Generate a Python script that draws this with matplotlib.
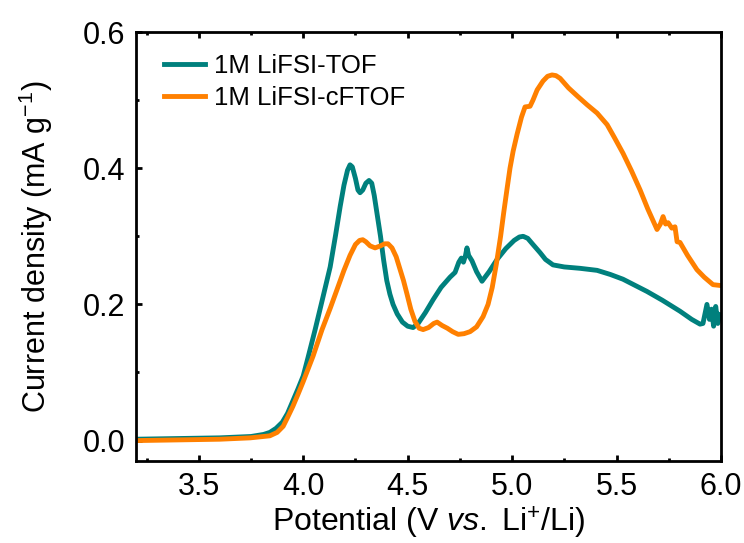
import numpy as np
import matplotlib
matplotlib.use('Agg')
import matplotlib.pyplot as plt
from matplotlib.ticker import MultipleLocator

# LSV curves, potential (V vs. Li+/Li) and current density (mA g-1)
tof_v = [3.20, 3.40, 3.60, 3.75, 3.81, 3.84, 3.87, 3.90, 3.925, 3.95, 3.975,
         4.00, 4.023, 4.057, 4.09, 4.129, 4.155, 4.177, 4.195, 4.212, 4.224,
         4.235, 4.25, 4.262, 4.272, 4.285, 4.30, 4.315, 4.328, 4.34, 4.355,
         4.37, 4.385, 4.40, 4.415, 4.43, 4.45, 4.475, 4.50, 4.526, 4.55,
         4.585, 4.622, 4.66, 4.703, 4.727, 4.745, 4.757, 4.767, 4.777, 4.784,
         4.792, 4.808, 4.83, 4.856, 4.89, 4.928, 4.97, 5.01, 5.035, 5.053,
         5.075, 5.10, 5.134, 5.16, 5.196, 5.25, 5.325, 5.407, 5.47, 5.531,
         5.646, 5.72, 5.804, 5.86, 5.90, 5.914, 5.933, 5.945, 5.955, 5.965,
         5.975, 5.985, 5.995]
tof_j = [0.002, 0.003, 0.004, 0.006, 0.009, 0.012, 0.018, 0.027, 0.040, 0.058, 0.076,
         0.095, 0.122, 0.163, 0.205, 0.255, 0.302, 0.344, 0.375, 0.397, 0.405,
         0.402, 0.385, 0.368, 0.364, 0.368, 0.378, 0.382, 0.378, 0.360, 0.330,
         0.300, 0.265, 0.235, 0.215, 0.200, 0.186, 0.174, 0.168, 0.166, 0.172,
         0.188, 0.207, 0.225, 0.240, 0.247, 0.262, 0.268, 0.262, 0.272, 0.283,
         0.272, 0.264, 0.248, 0.234, 0.248, 0.266, 0.282, 0.294, 0.299, 0.300,
         0.297, 0.288, 0.276, 0.266, 0.258, 0.255, 0.253, 0.250, 0.244, 0.237,
         0.219, 0.206, 0.190, 0.178, 0.171, 0.172, 0.200, 0.178, 0.193, 0.168,
         0.197, 0.172, 0.185]

cftof_v = [3.20, 3.40, 3.60, 3.746, 3.84, 3.875, 3.904, 3.925, 3.95, 3.975,
           3.999, 4.047, 4.09, 4.13, 4.162, 4.195, 4.224, 4.25, 4.27, 4.285,
           4.30, 4.32, 4.344, 4.37, 4.39, 4.406, 4.425, 4.445, 4.465, 4.48,
           4.497, 4.515, 4.535, 4.555, 4.574, 4.60, 4.625, 4.641, 4.665, 4.69,
           4.715, 4.742, 4.77, 4.799, 4.83, 4.861, 4.885, 4.905, 4.925, 4.945,
           4.96, 4.976, 4.99, 5.005, 5.024, 5.045, 5.062, 5.086, 5.10, 5.12,
           5.148, 5.17, 5.191, 5.21, 5.23, 5.27, 5.316, 5.36, 5.407, 5.455,
           5.49, 5.531, 5.572, 5.613, 5.65, 5.694, 5.71, 5.723, 5.735, 5.747,
           5.765, 5.78, 5.79, 5.804, 5.84, 5.885, 5.92, 5.962, 5.99]
cftof_j = [0.000, 0.001, 0.002, 0.004, 0.007, 0.012, 0.021, 0.034, 0.050, 0.068,
           0.086, 0.124, 0.163, 0.195, 0.222, 0.250, 0.272, 0.288, 0.294, 0.295,
           0.292, 0.286, 0.283, 0.286, 0.289, 0.289, 0.283, 0.270, 0.250, 0.235,
           0.215, 0.193, 0.175, 0.165, 0.163, 0.166, 0.172, 0.174, 0.169, 0.165,
           0.160, 0.156, 0.157, 0.160, 0.167, 0.182, 0.200, 0.225, 0.260, 0.300,
           0.335, 0.370, 0.400, 0.425, 0.450, 0.475, 0.490, 0.491, 0.500, 0.515,
           0.528, 0.535, 0.537, 0.536, 0.532, 0.518, 0.505, 0.493, 0.481, 0.464,
           0.445, 0.422, 0.396, 0.368, 0.340, 0.310, 0.318, 0.329, 0.318, 0.320,
           0.312, 0.314, 0.292, 0.291, 0.272, 0.251, 0.240, 0.229, 0.228]

labels = ['1M LiFSI-TOF', '1M LiFSI-cFTOF']
colors = ['#00807d', '#ff8000']

plt.rcParams['font.family'] = ['Liberation Sans', 'DejaVu Sans']
plt.rcParams['mathtext.fontset'] = 'custom'
plt.rcParams['mathtext.rm'] = 'Liberation Sans'
plt.rcParams['mathtext.it'] = 'Liberation Sans:italic'

fig = plt.figure(figsize=(7.44, 5.43), dpi=100)
ax = fig.add_axes([0.183, 0.151, 0.786, 0.790])

ax.plot(tof_v, tof_j, color=colors[0], lw=3.5, label=labels[0],
        solid_joinstyle='round')
ax.plot(cftof_v, cftof_j, color=colors[1], lw=3.5, label=labels[1],
        solid_joinstyle='round')

ax.set_xlim(3.2, 6.0)
ax.set_ylim(-0.03, 0.6)
ax.xaxis.set_major_locator(MultipleLocator(0.5))
ax.xaxis.set_minor_locator(MultipleLocator(0.25))
ax.yaxis.set_major_locator(MultipleLocator(0.2))
ax.yaxis.set_minor_locator(MultipleLocator(0.1))
ax.xaxis.set_major_formatter(plt.FormatStrFormatter('%.1f'))
ax.yaxis.set_major_formatter(plt.FormatStrFormatter('%.1f'))

for s in ax.spines.values():
    s.set_linewidth(2)
ax.tick_params(which='major', direction='in', length=4.5, width=2,
               labelsize=22, pad=8)
ax.tick_params(which='minor', direction='in', length=2.5, width=2)
ax.tick_params(axis='x', which='both', top=True)

ax.set_xlabel(r'Potential (V $\mathit{vs.}$ Li$^{+}$/Li)', fontsize=23, labelpad=2)
ax.set_ylabel(r'Current density (mA g$^{-1}$)', fontsize=22, labelpad=20)

ax.legend(loc='upper left', frameon=False, fontsize=18.5, handlelength=1.6,
          handletextpad=0.35, labelspacing=0.3, borderaxespad=0.0,
          bbox_to_anchor=(0.03, 0.972))

fig.savefig('out.png', dpi=100)
